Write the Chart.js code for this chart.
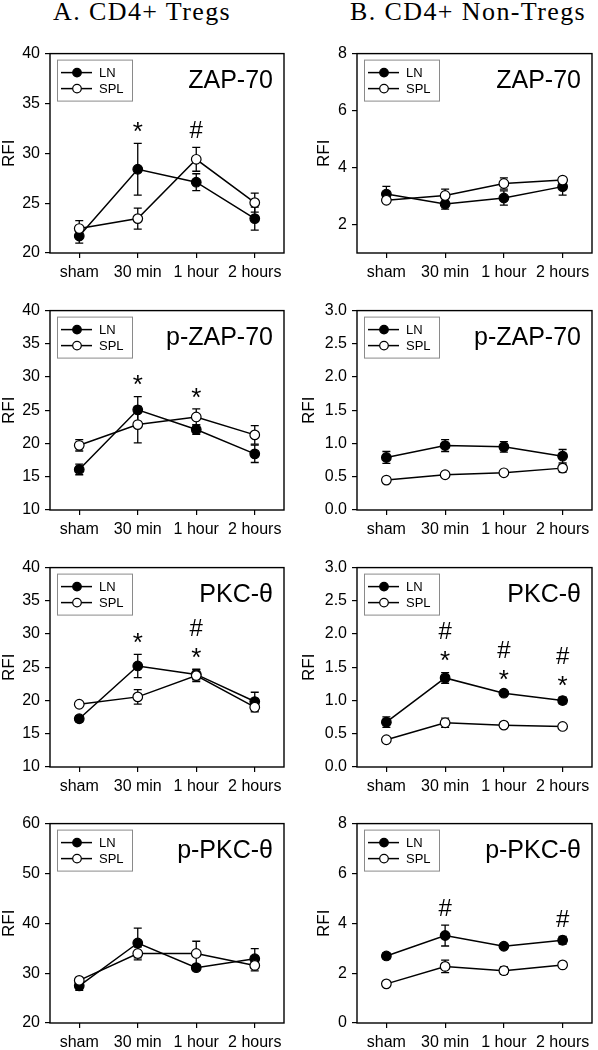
<!DOCTYPE html>
<html><head><meta charset="utf-8">
<script src="https://cdn.jsdelivr.net/npm/chart.js@4"></script>
<style>
body{margin:0;background:#fff;width:598px;height:1050px;position:relative;overflow:hidden}
canvas{position:absolute}
.sec{position:absolute;font-family:"Liberation Serif","Times New Roman",serif;font-size:26px;letter-spacing:1.4px;line-height:26px;white-space:nowrap;color:#000}
</style></head><body>
<div class="sec" style="left:53px;top:-1px">A. CD4+ Tregs</div>
<div class="sec" style="left:350px;top:-1px">B. CD4+ Non-Tregs</div>
<script>
// ---- data ----
const categories = ['sham', '30 min', '1 hour', '2 hours'];
const seriesNames = ['LN', 'SPL'];

// A. Tregs, ZAP-70
const a1LnMean = [21.7, 28.4, 27.1, 23.45];
const a1LnErr = [0.7, 2.6, 0.85, 1.15];
const a1SplMean = [22.45, 23.45, 29.4, 25.05];
const a1SplErr = [0.8, 1.05, 1.2, 0.95];
const a1Ticks = [20, 25, 30, 35, 40];
const a1Marks = [[], ['*'], ['#'], []];

// B. Non-Tregs, ZAP-70
const b1LnMean = [3.07, 2.72, 2.93, 3.33];
const b1LnErr = [0.27, 0.18, 0.25, 0.3];
const b1SplMean = [2.85, 3.02, 3.44, 3.56];
const b1SplErr = [0.08, 0.22, 0.2, 0.05];
const b1Ticks = [2, 4, 6, 8];
const b1Marks = [[], [], [], []];

// A. Tregs, p-ZAP-70
const a2LnMean = [16.1, 25.07, 22.1, 18.45];
const a2LnErr = [0.8, 2.0, 0.7, 1.3];
const a2SplMean = [19.73, 22.85, 24.0, 21.3];
const a2SplErr = [0.85, 2.75, 1.2, 1.4];
const a2Ticks = [10, 15, 20, 25, 30, 35, 40];
const a2Marks = [[], ['*'], ['*'], []];

// B. Non-Tregs, p-ZAP-70
const b2LnMean = [0.79, 0.97, 0.95, 0.81];
const b2LnErr = [0.09, 0.09, 0.08, 0.1];
const b2SplMean = [0.45, 0.53, 0.56, 0.63];
const b2SplErr = [0.02, 0.04, 0.03, 0.06];
const b2Ticks = [0, 0.5, 1.0, 1.5, 2.0, 2.5, 3.0];
const b2Marks = [[], [], [], []];

// A. Tregs, PKC-theta
const a3LnMean = [17.26, 25.2, 23.93, 19.85];
const a3LnErr = [0.45, 1.75, 0.8, 1.4];
const a3SplMean = [19.44, 20.55, 23.75, 19.0];
const a3SplErr = [0.3, 1.1, 0.9, 0.7];
const a3Ticks = [10, 15, 20, 25, 30, 35, 40];
const a3Marks = [[], ['*'], ['*', '#'], []];

// B. Non-Tregs, PKC-theta
const b3LnMean = [0.675, 1.34, 1.11, 1.0];
const b3LnErr = [0.08, 0.08, 0.03, 0.05];
const b3SplMean = [0.41, 0.665, 0.63, 0.61];
const b3SplErr = [0.02, 0.07, 0.03, 0.03];
const b3Ticks = [0, 0.5, 1.0, 1.5, 2.0, 2.5, 3.0];
const b3Marks = [[], ['*', '#'], ['*', '#'], ['*', '#']];

// A. Tregs, p-PKC-theta
const a4LnMean = [27.45, 36.05, 31.1, 32.9];
const a4LnErr = [0.9, 3.0, 0.6, 2.0];
const a4SplMean = [28.55, 33.95, 33.95, 31.55];
const a4SplErr = [0.45, 1.3, 2.45, 1.1];
const a4Ticks = [20, 30, 40, 50, 60];
const a4Marks = [[], [], [], []];

// B. Non-Tregs, p-PKC-theta
const b4LnMean = [2.69, 3.51, 3.08, 3.32];
const b4LnErr = [0.12, 0.42, 0.1, 0.15];
const b4SplMean = [1.57, 2.27, 2.1, 2.33];
const b4SplErr = [0.05, 0.25, 0.15, 0.05];
const b4Ticks = [0, 2, 4, 6, 8];
const b4Marks = [[], ['#'], [], ['#']];

// ---- panels ----
const panels = [
  {title: 'ZAP-70', col: 0, row: 0, ln: a1LnMean, lnE: a1LnErr, spl: a1SplMean, splE: a1SplErr, ticks: a1Ticks, min: 20, max: 40, marks: a1Marks, dec: 0},
  {title: 'ZAP-70', col: 1, row: 0, ln: b1LnMean, lnE: b1LnErr, spl: b1SplMean, splE: b1SplErr, ticks: b1Ticks, min: 1, max: 8, marks: b1Marks, dec: 0},
  {title: 'p-ZAP-70', col: 0, row: 1, ln: a2LnMean, lnE: a2LnErr, spl: a2SplMean, splE: a2SplErr, ticks: a2Ticks, min: 10, max: 40, marks: a2Marks, dec: 0},
  {title: 'p-ZAP-70', col: 1, row: 1, ln: b2LnMean, lnE: b2LnErr, spl: b2SplMean, splE: b2SplErr, ticks: b2Ticks, min: 0, max: 3, marks: b2Marks, dec: 1},
  {title: 'PKC-\u03B8', col: 0, row: 2, ln: a3LnMean, lnE: a3LnErr, spl: a3SplMean, splE: a3SplErr, ticks: a3Ticks, min: 10, max: 40, marks: a3Marks, dec: 0},
  {title: 'PKC-\u03B8', col: 1, row: 2, ln: b3LnMean, lnE: b3LnErr, spl: b3SplMean, splE: b3SplErr, ticks: b3Ticks, min: 0, max: 3, marks: b3Marks, dec: 1},
  {title: 'p-PKC-\u03B8', col: 0, row: 3, ln: a4LnMean, lnE: a4LnErr, spl: a4SplMean, splE: a4SplErr, ticks: a4Ticks, min: 20, max: 60, marks: a4Marks, dec: 0},
  {title: 'p-PKC-\u03B8', col: 1, row: 3, ln: b4LnMean, lnE: b4LnErr, spl: b4SplMean, splE: b4SplErr, ticks: b4Ticks, min: 0, max: 8, marks: b4Marks, dec: 0}
];

// ---- layout ----
const SANS = '"Liberation Sans", Arial, Helvetica, sans-serif';
const colLayout = [
  {left: 0, width: 290, yW: 50, padR: 3},
  {left: 300, width: 298, yW: 57, padR: 2}
];
const rowTops = [51, 308, 565, 821];
const plotH = 202, xAxisH = 30, padTop = 12;

Chart.defaults.font.family = SANS;
Chart.defaults.color = '#000';

const errorBars = {
  id: 'errorBars',
  beforeDatasetsDraw(chart) {
    const ctx = chart.ctx, xs = chart.scales.x, ys = chart.scales.y;
    ctx.save();
    ctx.strokeStyle = '#000';
    ctx.lineWidth = 1.3;
    chart.data.datasets.forEach(ds => {
      ds.data.forEach((v, i) => {
        const e = ds.errors[i];
        const px = xs.getPixelForValue(i);
        const t = ys.getPixelForValue(v + e), b = ys.getPixelForValue(v - e);
        ctx.beginPath();
        ctx.moveTo(px, t); ctx.lineTo(px, b);
        ctx.moveTo(px - 4, t); ctx.lineTo(px + 4, t);
        ctx.moveTo(px - 4, b); ctx.lineTo(px + 4, b);
        ctx.stroke();
      });
    });
    ctx.restore();
  }
};

const decor = {
  id: 'decor',
  afterDraw(chart, args, opts) {
    const ctx = chart.ctx, a = chart.chartArea, xs = chart.scales.x, ys = chart.scales.y;
    ctx.save();
    // frame
    ctx.strokeStyle = '#000';
    ctx.lineWidth = 1.4;
    ctx.strokeRect(a.left, a.top, a.right - a.left, a.bottom - a.top);
    // legend
    const lx = a.left + 7, ly = a.top + 6;
    ctx.lineWidth = 1;
    ctx.strokeStyle = '#8a8a8a';
    ctx.strokeRect(lx + 0.5, ly + 0.5, 75, 41);
    const rows = [ly + 13, ly + 29];
    chart.data.datasets.slice().sort((p, q) => p.legendIndex - q.legendIndex).forEach((ds, k) => {
      const ry = rows[k];
      ctx.strokeStyle = '#000';
      ctx.lineWidth = 1.5;
      ctx.beginPath(); ctx.moveTo(lx + 4, ry); ctx.lineTo(lx + 35, ry); ctx.stroke();
      ctx.beginPath(); ctx.arc(lx + 20, ry, 4.3, 0, Math.PI * 2);
      ctx.fillStyle = ds.pointBackgroundColor; ctx.fill();
      ctx.lineWidth = 1.2; ctx.stroke();
      ctx.fillStyle = '#000';
      ctx.font = '13px ' + SANS;
      ctx.textAlign = 'left'; ctx.textBaseline = 'middle';
      ctx.fillText(ds.label, lx + 42, ry + 1);
    });
    // panel title
    ctx.font = '25px ' + SANS;
    ctx.textAlign = 'right'; ctx.textBaseline = 'alphabetic';
    ctx.fillStyle = '#000';
    ctx.fillText(opts.title, a.right - 11, a.top + 34);
    // significance marks
    ctx.textAlign = 'center';
    opts.marks.forEach((list, i) => {
      if (!list.length) return;
      let top = Infinity;
      chart.data.datasets.forEach(ds => {
        top = Math.min(top, ys.getPixelForValue(ds.data[i] + ds.errors[i]));
      });
      const px = xs.getPixelForValue(i);
      list.forEach((s, k) => {
        const c = top - 18 - 24 * k;
        if (s === '*') { ctx.font = '26px ' + SANS; ctx.fillText(s, px, c + 0.57 * 26); }
        else { ctx.font = '24px ' + SANS; ctx.fillText(s, px, c + 0.36 * 24); }
      });
    });
    ctx.restore();
  }
};

panels.forEach(p => {
  const cl = colLayout[p.col];
  const cv = document.createElement('canvas');
  const h = padTop + plotH + xAxisH;
  cv.width = cl.width; cv.height = h;
  cv.style.left = cl.left + 'px';
  cv.style.top = (rowTops[p.row] - padTop) + 'px';
  cv.style.width = cl.width + 'px'; cv.style.height = h + 'px';
  document.body.appendChild(cv);
  const rfiPad = p.col === 0 ? 1 : (p.dec ? 1 : 16);
  new Chart(cv, {
    type: 'line',
    data: {
      labels: categories,
      datasets: [
        {label: seriesNames[1], data: p.spl, errors: p.splE, legendIndex: 1,
         borderColor: '#000', borderWidth: 1.5, pointRadius: 4.8, pointBorderWidth: 1.2,
         pointBackgroundColor: '#fff', pointBorderColor: '#000', tension: 0, fill: false},
        {label: seriesNames[0], data: p.ln, errors: p.lnE, legendIndex: 0,
         borderColor: '#000', borderWidth: 1.5, pointRadius: 4.8, pointBorderWidth: 1.2,
         pointBackgroundColor: '#000', pointBorderColor: '#000', tension: 0, fill: false}
      ]
    },
    options: {
      responsive: false, animation: false, devicePixelRatio: 1,
      layout: {padding: {top: padTop, right: cl.padR, left: 0, bottom: 0}},
      plugins: {legend: {display: false}, tooltip: {enabled: false}, decor: {title: p.title, marks: p.marks}},
      scales: {
        x: {
          type: 'category', offset: true,
          grid: {display: true, drawOnChartArea: false, drawTicks: true, tickLength: 5, color: '#000', lineWidth: 1.2, offset: false},
          border: {display: false},
          ticks: {font: {size: 16}, color: '#000', padding: 5, maxRotation: 0, autoSkip: false},
          afterFit: s => { s.height = xAxisH; }
        },
        y: {
          type: 'linear', min: p.min, max: p.max,
          grid: {display: true, drawOnChartArea: false, drawTicks: true, tickLength: 5, color: '#000', lineWidth: 1.2},
          border: {display: false},
          ticks: {font: {size: 16}, color: '#000', padding: 5,
                  callback: v => p.dec ? Number(v).toFixed(p.dec) : String(v)},
          afterBuildTicks: s => { s.ticks = p.ticks.map(v => ({value: v})); },
          title: {display: true, text: 'RFI', font: {size: 17, lineHeight: 1}, color: '#000', padding: {top: rfiPad, bottom: 0}},
          afterFit: s => { s.width = cl.yW; }
        }
      }
    },
    plugins: [errorBars, decor]
  });
});
</script>
</body></html>
